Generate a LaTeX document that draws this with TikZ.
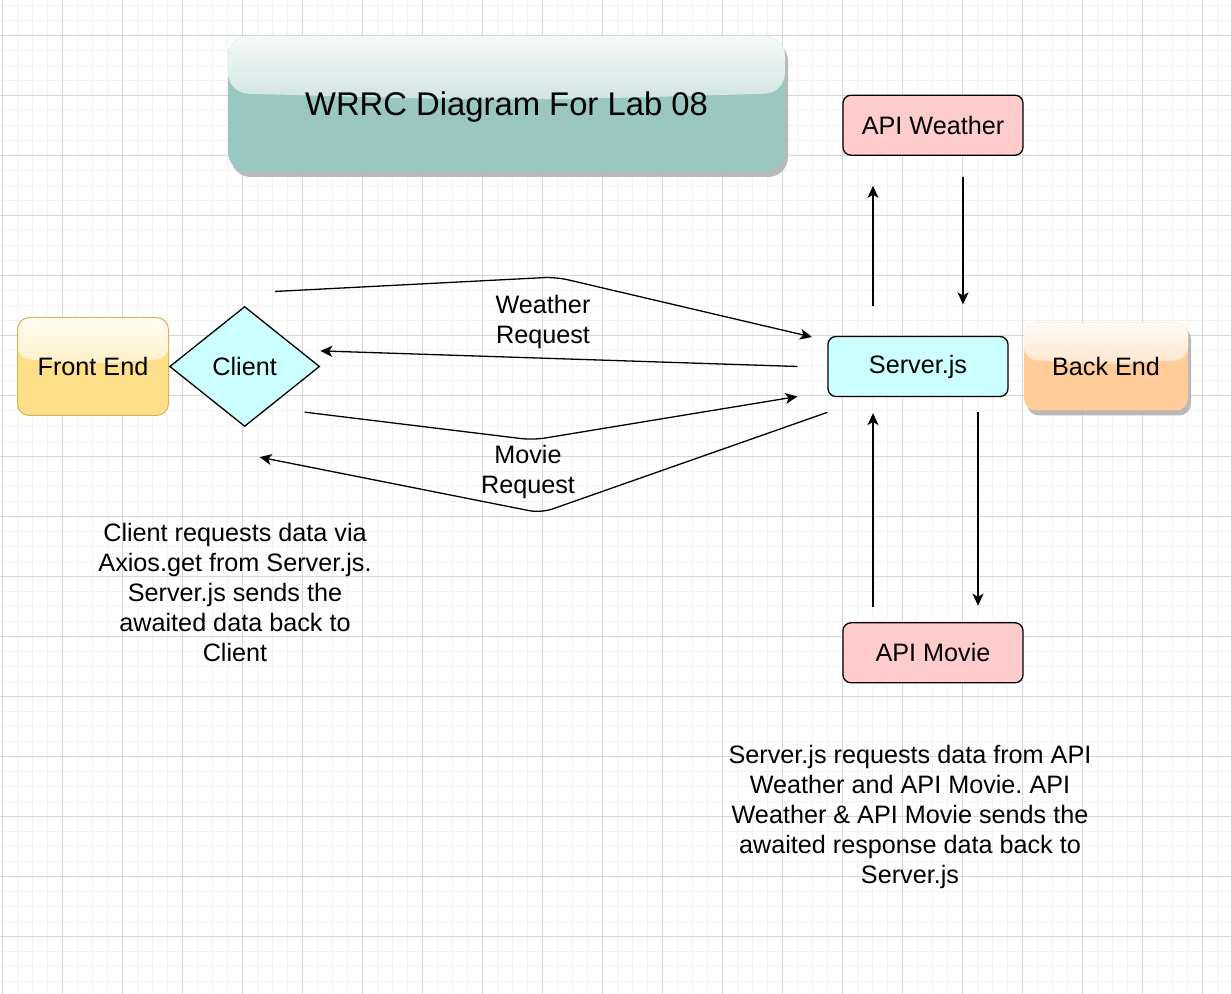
\documentclass[tikz,border=0pt]{standalone}
\usepackage{fontspec}
\setmainfont{Liberation Sans}
\frenchspacing
\usetikzlibrary{positioning,shapes.geometric,shadows,calc,arrows.meta}

\definecolor{tealbox}{HTML}{9AC7BF}
\definecolor{frontfill}{HTML}{FFDF88}
\definecolor{frontline}{HTML}{D6B656}
\definecolor{backfill}{HTML}{FFCC99}
\definecolor{cyanfill}{HTML}{CCFFFF}
\definecolor{apifill}{HTML}{FFCCCC}
\definecolor{gridmajor}{HTML}{D6D6D6}
\definecolor{gridminor}{HTML}{F1F1F1}

\tikzset{
  glass/.style={fill=#1, path picture={
      \shade[top color=white!90!#1, bottom color=white!12!#1]
        (path picture bounding box.north west) --
        (path picture bounding box.north east) --
        ($(path picture bounding box.north east)!0.42!(path picture bounding box.south east)$)
        .. controls ($(path picture bounding box.north)!0.48!(path picture bounding box.south)$) ..
        ($(path picture bounding box.north west)!0.42!(path picture bounding box.south west)$) -- cycle;
    }},
  boxshadow/.style={drop shadow={shadow xshift=1.5pt, shadow yshift=-2.5pt, fill=black!30, opacity=0.9}},
  titlebox/.style={glass=tealbox, rounded corners=10pt, boxshadow, minimum width=278.5pt,
    minimum height=68pt, text depth=0pt, font=\fontsize{16.4}{19}\selectfont},
  frontbox/.style={glass=frontfill, draw=frontline, line width=0.5pt, rounded corners=6pt,
    minimum width=75.5pt, minimum height=49pt},
  backbox/.style={glass=backfill, rounded corners=6pt, boxshadow, minimum width=82pt, minimum height=44pt},
  clientshape/.style={diamond, draw, fill=cyanfill, line width=0.65pt, aspect=1.25, inner sep=0pt,
    minimum width=75pt, minimum height=60pt},
  serverbox/.style={draw, fill=cyanfill, line width=0.65pt, rounded corners=4pt,
    minimum width=90pt, minimum height=30pt},
  apibox/.style={draw, fill=apifill, line width=0.65pt, rounded corners=4pt,
    minimum width=90pt, minimum height=30pt},
  note/.style={align=center, inner sep=0pt},
  arr/.style={draw, line width=0.65pt, rounded corners=6pt,
    -{Stealth[length=6pt, width=5.5pt, inset=1.6pt]}}
}

\begin{document}
\begin{tikzpicture}[x=0.5pt, y=-0.5pt, font=\fontsize{12.6}{15}\selectfont]
  \useasboundingbox (0,0) rectangle (1231,994);
  \fill[white] (0,0) rectangle (1231,994);
  \foreach \gx in {2,17,...,1231} \draw[gridminor, line width=0.5pt] (\gx,0) -- (\gx,994);
  \foreach \gy in {6,21,...,994} \draw[gridminor, line width=0.5pt] (0,\gy) -- (1231,\gy);
  \foreach \gx in {2,62,...,1231} \draw[gridmajor, line width=0.5pt] (\gx,0) -- (\gx,994);
  \foreach \gy in {36,96,...,994} \draw[gridmajor, line width=0.5pt] (0,\gy) -- (1231,\gy);

  \node[titlebox] (title) at (506.5,104) {WRRC Diagram For Lab 08};

  \node[frontbox] (fe) at (93,366.5) {Front End};
  \node[clientshape, right=0pt of fe] (client) {Client};

  \node[serverbox] (server) at (918,366.5) {Server.js};
  \node[backbox, right=7.5pt of server] (be) {Back End};
  \node[apibox, above=90pt of server, xshift=7.5pt] (apiw) {API Weather};
  \node[apibox, below=112.5pt of server, xshift=7.5pt] (apim) {API Movie};

  \node[note] (wreq) at (543,322) {Weather\\Request};
  \node[note] (mreq) at (528,472) {Movie\\Request};

  \node[note] (clientnote) at (235,592) {Client requests data via\\Axios.get from Server.js.\\Server.js sends the\\awaited data back to\\Client};
  \node[note] (servernote) at (910,817) {Server.js requests data from API\\Weather and API Movie. API\\Weather \& API Movie sends the\\awaited response data back to\\Server.js};

  \draw[arr] ([xshift=15.2pt,yshift=7.2pt]client.north) -- (556,277) -- ([xshift=-7.7pt,yshift=14.75pt]server.west);
  \draw[arr] ([xshift=-15pt]server.west) -- ([yshift=7.8pt]client.east);
  \draw[arr] ([xshift=30pt,yshift=7.5pt]client.south) -- (533,440) -- ([xshift=-15pt,yshift=-15pt]server.west);
  \draw[arr] ([yshift=-7.6pt]server.south west) -- (541,513) -- ([xshift=7.5pt,yshift=-15pt]client.south);

  \draw[arr] ([xshift=-22.5pt,yshift=15pt]server.north) -- ([xshift=-30pt,yshift=-15pt]apiw.south);
  \draw[arr] ([xshift=15pt,yshift=-10.75pt]apiw.south) -- ([xshift=22.5pt,yshift=15.75pt]server.north);
  \draw[arr] ([xshift=-30pt,yshift=7.4pt]apim.north) -- ([xshift=-22.5pt,yshift=-8pt]server.south);
  \draw[arr] ([xshift=30pt,yshift=-7.6pt]server.south) -- ([xshift=22.5pt,yshift=8.25pt]apim.north);
\end{tikzpicture}
\end{document}
